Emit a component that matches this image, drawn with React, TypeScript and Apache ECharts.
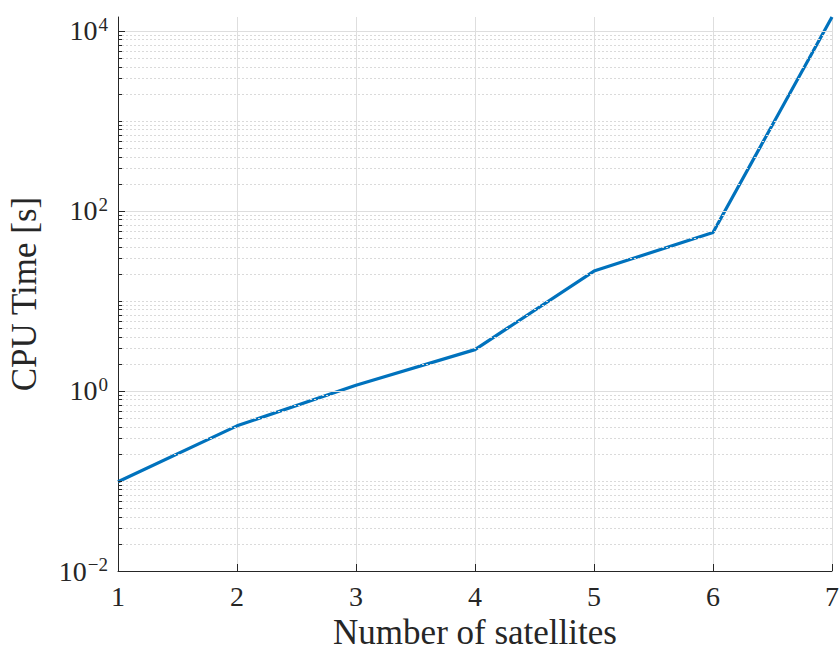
import React, { useEffect, useRef } from "react";
import * as echarts from "echarts";

const satellites = [1, 2, 3, 4, 5, 6, 7];
const cpuTime = [0.098, 0.41, 1.16, 2.88, 21.5, 57.7, 14300];
const yMin = 0.01;
const yMax = 14300;
const xTicks = [1, 2, 3, 4, 5, 6, 7];
const majorDecades = [0.01, 1, 100, 10000];
const minorMultipliers = [2, 3, 4, 5, 6, 7, 8, 9];
const decadeExponents = [-2, -1, 0, 1, 2, 3, 4];

const FONT = "'Liberation Serif', 'DejaVu Serif', serif";
const TEXT = "#262626";

export default function App() {
  const ref = useRef<HTMLDivElement>(null);

  useEffect(() => {
    if (!ref.current) return;
    const chart = echarts.init(ref.current, undefined, { renderer: "svg" });

    // minor positions: 2..9 x 10^n and the odd decades
    const minorValues: number[] = [];
    decadeExponents.forEach((n) => {
      const base = Math.pow(10, n);
      if (n % 2 !== 0 && base <= yMax) minorValues.push(base);
      minorMultipliers.forEach((k) => {
        const v = k * base;
        if (v < yMax) minorValues.push(v);
      });
    });

    const pxToX = 6 / 714;
    const majorTickLen = 7 * pxToX;
    const minorTickLen = 4 * pxToX;

    const option: any = {
      animation: false,
      backgroundColor: "#ffffff",
      grid: {
        left: 118,
        right: 8,
        top: 17,
        bottom: 74,
        containLabel: false,
        outerBoundsMode: "none",
      },
      xAxis: {
        type: "value",
        min: 1,
        max: 7,
        interval: 1,
        name: "Number of satellites",
        nameLocation: "middle",
        nameGap: 55,
        nameTextStyle: {
          fontFamily: FONT,
          fontSize: 35,
          color: TEXT,
          verticalAlign: "middle",
        },
        axisLine: { show: true, onZero: false, lineStyle: { color: TEXT, width: 1 } },
        axisTick: { show: true, inside: true, length: 7, lineStyle: { color: TEXT, width: 1 } },
        axisLabel: {
          fontFamily: FONT,
          fontSize: 28,
          color: TEXT,
          margin: 11,
          showMinLabel: true,
          showMaxLabel: true,
        },
        splitLine: { show: true, lineStyle: { color: "#dedede", width: 1 } },
      },
      yAxis: {
        type: "log",
        logBase: 10,
        min: yMin,
        max: yMax,
        name: "CPU Time [s]",
        nameLocation: "middle",
        nameGap: 76,
        nameRotate: 90,
        nameTextStyle: {
          fontFamily: FONT,
          fontSize: 35,
          color: TEXT,
        },
        axisLine: { show: true, lineStyle: { color: TEXT, width: 1 } },
        axisTick: { show: false },
        splitLine: { show: false },
        minorTick: { show: false },
        minorSplitLine: { show: false },
        axisLabel: {
          margin: 10,
          color: TEXT,
          fontFamily: FONT,
          formatter: (v: number) => {
            const e = Math.log10(v);
            const r = Math.round(e);
            if (Math.abs(e - r) > 1e-6 || r % 2 !== 0) return "";
            const sup = r < 0 ? "\u2212" + Math.abs(r) : String(r);
            return "{b|10}{s|" + sup + "}";
          },
          rich: {
            b: { fontFamily: FONT, fontSize: 28, color: TEXT },
            s: { fontFamily: FONT, fontSize: 19, color: TEXT, padding: [0, 0, 13, 1] },
          },
        },
      },
      series: [
        {
          name: "minor grid",
          type: "line",
          data: [],
          z: 1,
          silent: true,
          markLine: {
            silent: true,
            symbol: ["none", "none"],
            label: { show: false },
            emphasis: { disabled: true },
            lineStyle: { color: "#dadada", width: 1, type: [2, 2] },
            data: minorValues.map((v) => ({ yAxis: v })),
          },
        },
        {
          name: "major grid",
          type: "line",
          data: [],
          z: 1,
          silent: true,
          markLine: {
            silent: true,
            symbol: ["none", "none"],
            label: { show: false },
            emphasis: { disabled: true },
            lineStyle: { color: "#dedede", width: 1, type: "solid" },
            data: majorDecades.filter((v) => v > yMin).map((v) => ({ yAxis: v })),
          },
        },
        {
          name: "y ticks",
          type: "line",
          data: [],
          z: 4,
          silent: true,
          markLine: {
            silent: true,
            symbol: ["none", "none"],
            label: { show: false },
            emphasis: { disabled: true },
            lineStyle: { color: TEXT, width: 1, type: "solid" },
            data: [
              ...majorDecades.map((v) => [
                { coord: [xTicks[0], v] },
                { coord: [xTicks[0] + majorTickLen, v] },
              ]),
              ...minorValues.map((v) => [
                { coord: [xTicks[0], v] },
                { coord: [xTicks[0] + minorTickLen, v] },
              ]),
            ],
          },
        },
        {
          name: "CPU time",
          type: "line",
          z: 3,
          data: satellites.map((s, i) => [s, cpuTime[i]]),
          showSymbol: false,
          symbol: "none",
          lineStyle: { color: "#0072BD", width: 3.2 },
          itemStyle: { color: "#0072BD" },
          clip: false,
        },
      ],
    };

    chart.setOption(option);
    return () => chart.dispose();
  }, []);

  return (
    <div
      ref={ref}
      style={{ position: "fixed", left: 0, top: 0, width: 840, height: 645, background: "#fff" }}
    />
  );
}
